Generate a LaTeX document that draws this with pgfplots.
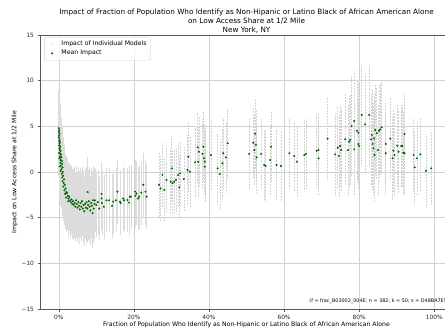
\documentclass[border=0pt]{standalone}
\usepackage{pgfplots}
\pgfplotsset{compat=1.18}
\usepackage{pgfplotstable}
\usepackage{fontspec}
\setmainfont{DejaVu Sans}
\definecolor{mgreen}{HTML}{006400}
\definecolor{mgray}{HTML}{D4D4D4}
\definecolor{mgraylt}{HTML}{DCDCDC}
\pgfplotstableread{
x y e
0.000 4.8 4.2
0.001 4.6 4.2
0.000 4.4 4.2
0.002 4.2 4.2
0.001 4.0 4.2
0.000 3.8 4.2
0.002 3.6 4.2
0.001 3.4 4.2
0.003 3.3 4.2
0.002 3.1 4.2
0.001 2.9 4.2
0.004 2.8 4.2
0.002 2.6 4.0
0.003 2.4 4.0
0.005 2.3 4.0
0.001 2.1 4.0
0.004 2.0 4.0
0.006 1.9 4.0
0.003 1.7 4.0
0.007 1.6 4.0
0.002 1.5 4.0
0.005 1.3 4.0
0.008 1.2 4.0
0.004 1.0 4.0
0.009 0.9 4.0
0.006 0.7 4.0
0.003 0.6 4.0
0.010 0.5 3.8
0.007 0.3 3.8
0.005 0.1 3.8
0.011 0.0 3.8
0.008 -0.2 3.8
0.012 -0.4 3.8
0.009 -0.6 3.8
0.014 -0.8 3.8
0.010 -1.0 3.8
0.013 -1.2 3.8
0.016 -1.4 3.8
0.012 -1.6 3.8
0.018 -1.8 3.8
0.015 -2.0 3.8
0.020 -2.2 3.8
0.017 -2.4 3.8
0.022 -2.3 3.8
0.024 -2.6 3.8
0.019 -2.8 3.8
0.026 -2.9 3.8
0.028 -2.7 3.8
0.030 -3.1 3.8
0.025 -3.2 3.8
0.032 -3.3 3.8
0.034 -3.0 3.8
0.036 -3.5 3.8
0.038 -3.2 3.8
0.040 -3.6 3.8
0.042 -3.4 3.8
0.044 -3.8 3.8
0.046 -3.1 3.8
0.048 -3.5 3.8
0.050 -3.9 3.8
0.052 -3.3 3.8
0.054 -3.7 3.8
0.056 -4.1 3.8
0.058 -3.4 3.8
0.060 -3.8 3.8
0.062 -3.2 3.8
0.064 -4.0 3.8
0.066 -3.6 3.8
0.068 -4.3 3.8
0.070 -3.5 3.8
0.072 -3.9 3.8
0.074 -3.3 3.8
0.076 -4.0 3.8
0.077 -2.2 3.8
0.078 -3.6 3.8
0.080 -3.2 3.8
0.082 -3.8 3.8
0.084 -4.2 3.8
0.086 -3.4 3.8
0.088 -3.7 3.8
0.090 -4.5 3.8
0.091 -3.1 3.8
0.093 -4.0 3.8
0.095 -3.5 3.8
0.096 -3.1 3.5
0.100 -3.6 3.5
0.104 -3.3 3.5
0.108 -4.0 3.5
0.114 -2.9 3.5
0.114 -2.4 3.5
0.115 -3.4 3.5
0.120 -3.8 3.5
0.127 -3.1 3.5
0.134 -3.1 3.5
0.142 -3.7 3.5
0.145 -3.25 3.5
0.152 -3.1 3.5
0.156 -2.15 3.5
0.163 -3.25 3.5
0.165 -3.4 3.5
0.171 -2.9 3.5
0.174 -3.1 3.5
0.183 -3.07 3.5
0.187 -3.35 3.5
0.189 -2.7 3.5
0.192 -2.7 3.5
0.203 -2.15 3.5
0.204 -2.6 3.5
0.207 -2.35 3.5
0.211 -2.9 3.5
0.214 -2.7 3.5
0.220 -2.25 3.5
0.225 -1.4 3.5
0.231 -2.15 3.5
0.234 -2.7 3.5
0.267 -1.4 3.5
0.271 -1.8 3.5
0.276 -0.33 3.5
0.281 -1.95 3.5
0.287 -0.88 3.5
0.298 -1.06 3.5
0.301 0.4 3.5
0.303 -1.24 3.5
0.307 -1.06 3.5
0.312 -0.88 3.5
0.318 -0.33 3.5
0.321 -1.68 3.5
0.323 -0.15 3.5
0.333 -0.77 3.5
0.343 0.22 3.8
0.345 1.67 3.8
0.349 0.03 3.8
0.363 1.06 3.8
0.370 2.7 3.8
0.371 1.13 3.8
0.373 2.22 3.8
0.383 1.97 3.8
0.385 2.77 3.8
0.387 1.5 3.8
0.389 1.13 3.8
0.389 0.58 3.8
0.405 1.86 3.8
0.423 0.4 3.8
0.429 -0.22 3.8
0.436 0.95 3.8
0.438 2.05 3.8
0.445 1.6 3.8
0.450 3.14 3.8
0.507 1.97 3.8
0.518 3.2 3.8
0.521 2.4 3.8
0.523 4.2 3.8
0.525 3.0 3.8
0.527 1.6 3.8
0.539 1.97 3.8
0.547 0.77 3.8
0.551 0.66 3.8
0.563 1.31 3.8
0.565 2.77 3.8
0.580 0.77 3.8
0.592 0.66 3.8
0.614 2.05 3.8
0.627 1.75 3.8
0.634 1.13 3.8
0.654 1.86 3.8
0.658 1.97 3.8
0.687 2.33 4.0
0.692 2.4 4.0
0.692 1.5 4.0
0.716 3.65 4.5
0.736 1.93 4.5
0.743 2.66 4.5
0.746 1.75 4.5
0.749 2.85 4.5
0.752 2.4 4.5
0.763 3.58 5.0
0.770 2.4 5.0
0.773 3.32 5.0
0.776 3.5 5.0
0.780 5.04 5.5
0.787 5.58 5.5
0.787 2.48 5.0
0.794 4.52 5.5
0.798 4.3 5.5
0.798 3.07 5.0
0.800 2.85 5.0
0.807 6.24 5.5
0.816 5.22 5.5
0.827 6.24 5.5
0.832 3.58 5.0
0.834 4.05 5.0
0.836 3.07 5.0
0.838 2.59 5.0
0.840 3.68 5.0
0.841 1.86 5.0
0.843 4.6 5.0
0.847 4.24 5.0
0.850 2.4 5.0
0.853 4.52 5.0
0.856 4.67 5.0
0.860 4.89 5.0
0.871 3.07 4.5
0.871 2.05 4.5
0.883 3.65 4.5
0.889 1.5 4.5
0.891 2.33 4.5
0.894 1.86 4.5
0.901 2.88 4.5
0.905 2.22 4.5
0.912 2.85 4.5
0.915 2.85 4.5
0.918 2.11 4.5
0.921 4.16 4.5
0.921 2.05 4.5
0.945 1.86 4.0
0.948 0.51 4.0
0.954 1.5 4.0
0.963 1.93 4.0
0.978 0.14 4.0
0.992 0.4 4.0
}\means
\begin{document}
\begin{tikzpicture}
\begin{axis}[
  at={(0,0)}, anchor=south west,
  scale only axis, width=413bp, height=274bp,
  xmin=-0.05, xmax=1.05, ymin=-15, ymax=15,
  xtick={0,0.2,0.4,0.6,0.8,1},
  xticklabels={0\%,20\%,40\%,60\%,80\%,100\%},
  ytick={-15,-10,-5,0,5,10,15},
  yticklabels={−15,−10,−5,0,5,10,15},
  xtick pos=left, ytick pos=left,
  grid=major, grid style={color=black!18, line width=0.5pt},
  axis line style={black!65, line width=0.6pt},
  tick style={black!65, line width=0.5pt}, tick align=outside, major tick length=2.5bp,
  ticklabel style={font=\fontsize{5.9}{6.5}\selectfont, text=black!85},
  /pgf/number format/assume math mode=true,
  title={Impact of Fraction of Population Who Identify as Non-Hipanic or Latino Black of African American Alone\\on Low Access Share at 1/2 Mile\\New York, NY},
  title style={font=\fontsize{7.3}{9}\selectfont, align=center, yshift=-8bp},
  xlabel={Fraction of Population Who Identify as Non-Hipanic or Latino Black of African American Alone},
  ylabel={Impact on Low Access Share at 1/2 Mile},
  label style={font=\fontsize{6.2}{7}\selectfont},
  xlabel style={yshift=4.5bp},
  ylabel style={yshift=-3bp},
  legend style={at={(0.01,0.993)}, anchor=north west, draw=black!20, rounded corners=1.5pt,
    font=\fontsize{6.2}{7}\selectfont, fill=white, fill opacity=0.8, text opacity=1,
    row sep=-1pt, inner sep=2pt},
  legend cell align=left,
  legend image code/.code={\draw[#1] plot coordinates {(0.2cm,0cm)};\path (0cm,0cm) (0.45cm,0cm);},
]
\addlegendimage{only marks, mark=*, mark size=0.35pt, color=mgray}
\addlegendentry{Impact of Individual Models}
\addlegendimage{only marks, mark=*, mark size=0.8pt, color=mgreen}
\addlegendentry{Mean Impact}
\addplot[draw=none, mark=none, forget plot, restrict x to domain=-0.1:0.25,
  error bars/.cd, y dir=both, y explicit, error mark=none,
  error bar style={color=mgraylt, line width=0.6pt}]
  table[x=x, y=y, y error=e] {\means};
\addplot[draw=none, mark=none, forget plot, restrict x to domain=0.25:1.1,
  error bars/.cd, y dir=both, y explicit, error mark=none,
  error bar style={color=mgray, dash pattern=on 0.6pt off 0.9pt, line width=0.6pt}]
  table[x=x, y=y, y error=e] {\means};
\addplot[only marks, mark=*, mark size=0.8pt, color=mgreen, forget plot]
  table[x=x, y=y] {\means};
\node[anchor=west, font=\fontsize{4.9}{5}\selectfont, inner sep=0pt] at (axis cs:0.667,-14.1)
  {(f = frac\_B03002\_004E; n = 382; k = 50; s = D48BA7E5...};
\end{axis}
\pgfresetboundingbox
\useasboundingbox (-40bp,-22bp) rectangle (405bp,309bp);
\end{tikzpicture}
\end{document}
